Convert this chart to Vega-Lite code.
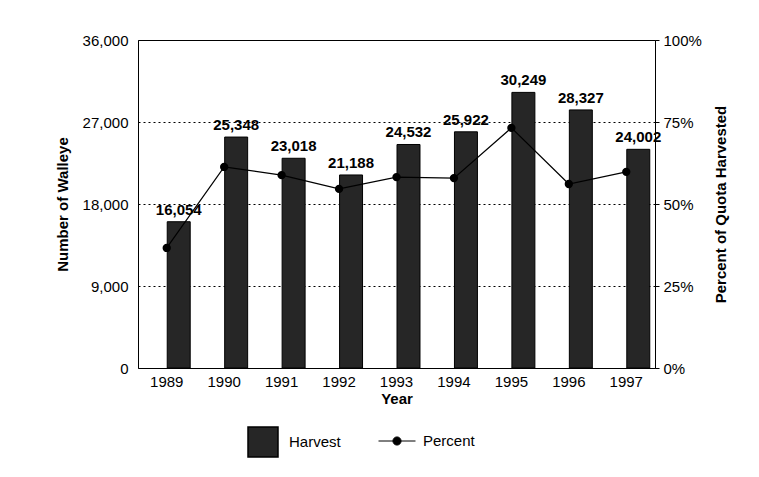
{
  "$schema": "https://vega.github.io/schema/vega-lite/v6.json",
  "autosize": "none",
  "width": 517,
  "height": 328,
  "padding": {"left": 138, "top": 40, "right": 104, "bottom": 109},
  "background": "white",
  "config": {
    "font": "Liberation Sans",
    "view": {"stroke": "black", "strokeWidth": 1},
    "axis": {"labelFont": "Liberation Sans", "titleFont": "Liberation Sans", "labelColor": "black", "titleColor": "black", "labelFontSize": 15, "titleFontSize": 15, "titleFontWeight": "bold", "domain": false}
  },
  "data": {
    "values": [
      {"Year": "1989", "Harvest": 16054, "Percent": 36.6},
      {"Year": "1990", "Harvest": 25348, "Percent": 61.3},
      {"Year": "1991", "Harvest": 23018, "Percent": 58.8},
      {"Year": "1992", "Harvest": 21188, "Percent": 54.6},
      {"Year": "1993", "Harvest": 24532, "Percent": 58.2},
      {"Year": "1994", "Harvest": 25922, "Percent": 57.9},
      {"Year": "1995", "Harvest": 30249, "Percent": 73.2},
      {"Year": "1996", "Harvest": 28327, "Percent": 56.1},
      {"Year": "1997", "Harvest": 24002, "Percent": 59.8}
    ]
  },
  "encoding": {
    "x": {
      "field": "Year", "type": "ordinal",
      "scale": {"paddingInner": 0.6, "paddingOuter": 0.3},
      "axis": {"title": "Year", "labelAngle": 0, "ticks": false, "labelPadding": 6, "titlePadding": 2, "grid": false}
    }
  },
  "layer": [
    {
      "layer": [
        {
          "mark": {"type": "bar", "xOffset": 12, "stroke": "black", "strokeWidth": 1},
          "encoding": {
            "y": {
              "field": "Harvest", "type": "quantitative",
              "scale": {"domain": [0, 36000], "nice": false},
              "axis": {"title": "Number of Walleye", "values": [0, 9000, 18000, 27000, 36000], "format": ",d", "ticks": false, "labelPadding": 10, "titlePadding": 12, "grid": true, "gridColor": "black", "gridDash": [2, 3], "gridWidth": 1, "gridOpacity": 1}
            },
            "fill": {
              "datum": "Harvest", "type": "nominal",
              "scale": {"range": ["#262626"]},
              "legend": {"title": null, "orient": "none", "legendX": 109, "legendY": 386, "symbolType": "square", "symbolSize": 900, "symbolStrokeColor": "black", "labelFontSize": 15, "labelFont": "Liberation Sans", "labelColor": "black", "labelOffset": 10}
            }
          }
        },
        {
          "mark": {"type": "text", "xOffset": 12, "dy": -4, "baseline": "bottom", "fontWeight": "bold", "fontSize": 15, "font": "Liberation Sans", "color": "black"},
          "encoding": {
            "y": {"field": "Harvest", "type": "quantitative"},
            "text": {"field": "Harvest", "type": "quantitative", "format": ",d"}
          }
        }
      ]
    },
    {
      "mark": {"type": "line", "color": "black", "strokeWidth": 1.2, "point": {"filled": true, "color": "black", "size": 40}},
      "encoding": {
        "y": {
          "field": "Percent", "type": "quantitative",
          "scale": {"domain": [0, 100], "nice": false},
          "axis": {"title": "Percent of Quota Harvested", "titleAngle": -90, "orient": "right", "values": [0, 25, 50, 75, 100], "labelExpr": "datum.value + '%'", "ticks": true, "tickSize": 4, "tickColor": "black", "labelPadding": 4, "titlePadding": 27, "grid": false}
        },
        "stroke": {
          "datum": "Percent", "type": "nominal",
          "scale": {"range": ["black"]},
          "legend": {"title": null, "orient": "none", "legendX": 240, "legendY": 382, "symbolType": "M-1,0L1,0M-0.22,0A0.22,0.22 0 1,1 0.22,0A0.22,0.22 0 1,1 -0.22,0Z", "symbolSize": 1369, "symbolFillColor": "black", "symbolStrokeColor": "black", "symbolStrokeWidth": 1, "labelFontSize": 15, "labelFont": "Liberation Sans", "labelColor": "black", "labelOffset": 7}
        }
      }
    }
  ],
  "resolve": {"scale": {"y": "independent", "fill": "independent", "stroke": "independent"}}
}
